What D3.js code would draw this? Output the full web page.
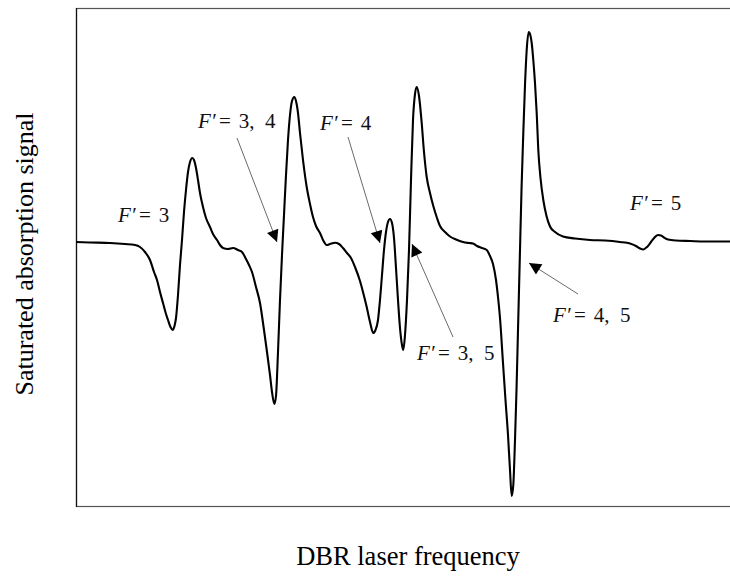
<!DOCTYPE html>
<html>
<head>
<meta charset="utf-8">
<script src="https://cdn.jsdelivr.net/npm/d3@7"></script>
<style>
  body { margin: 0; background: #fff; }
  svg { display: block; }
</style>
</head>
<body>
<div id="app"></div>
<script>
// laser detuning (arb. units) and saturated absorption signal (arb. units)
const freq = [
  0, 14, 34, 49, 59, 64, 69, 74, 78, 81,
  84, 87, 90, 92, 94.5, 96.7, 98.5, 100, 102, 104,
  106, 108, 110, 112, 114, 116.3, 118, 120, 122, 124,
  127, 130, 134, 137, 141, 144, 147, 152, 157, 162,
  166, 170, 173, 176, 180, 184, 188, 191, 194, 196,
  198.3, 200, 202, 204, 206, 208, 210, 212, 214, 216,
  218.3, 220, 222, 224, 227, 230.7, 234, 237, 240, 244,
  247, 250.7, 254, 259, 263, 267, 271, 275, 279, 284,
  287, 290.7, 294, 297.3, 299.5, 302, 304, 306, 308, 310,
  312, 314, 316, 318, 320, 322, 324, 326, 327.3, 329,
  331, 333, 335, 337, 339, 340.7, 343, 345.7, 348, 350.7,
  354, 357.3, 361, 364, 369, 374, 380, 387, 393, 397,
  401, 406, 410.7, 414, 417, 420, 422, 424, 427, 429.5,
  432, 434, 435.7, 437.3, 439, 440.5, 442, 444, 445.5, 447.3,
  449, 450.7, 452.7, 454.3, 455.7, 457.3, 459, 460.7, 462.3, 464.5,
  467.3, 470.5, 474, 479, 487, 499, 514, 529, 544, 554,
  560, 564, 567.3, 571, 575, 579, 582, 585, 588, 592,
  600, 614, 629, 654
]
const signal = [
  0, -0.5, -1, -2, -3, -5, -10, -18, -30, -38,
  -50, -61, -72, -78, -85, -88, -84, -76, -53, -23,
  2, 30, 52, 70, 80, 84, 82, 74, 62, 49,
  35, 24, 15, 8, 2, -3, -6, -7, -6, -8,
  -10, -17, -23, -30, -45, -61, -88, -110, -133, -150,
  -162, -154, -110, -58, -13, 27, 67, 102, 127, 141,
  145, 141, 129, 109, 82, 55, 38, 25, 16, 9,
  2, -3, -2, -0.7, -2, -6, -11, -16, -25, -39,
  -50, -65, -80, -91, -88, -78, -58, -33, -8, 10,
  20, 23, 19, 4, -26, -58, -86, -103, -108, -93,
  -58, -8, 62, 122, 148, 155, 146, 119, 90, 65,
  49, 36, 24, 16, 10, 5.5, 2.5, 0, -1, -1.5,
  -4, -6, -8, -14, -22, -38, -55, -76, -121, -158,
  -193, -228, -254, -243, -198, -148, -88, -8, 52, 109,
  157, 192, 210, 207, 199, 182, 159, 129, 92, 64,
  42, 26, 15.5, 10, 5.5, 3.5, 2, 1.5, 0, -1.5,
  -4, -6.5, -7.5, -5, 0, 5, 7, 6.5, 4.5, 2.5,
  1.5, 1, 0.5, 0.5
]

// transition labels: text anchor and (optional) arrow from -> to, in data units
const labels = ['3', '3, 4', '4', '3, 5', '4, 5', '5']
const labelAt = [[42, 20], [122, 114], [244, 112], [341, -118], [477, -80], [554, 32]]
const arrowFrom = [null, [161, 104], [272, 105], [377, -95], [502, -52], null]
const arrowTo = [null, [201, 0], [304, -1], [336, -2], [453, -21], null]

const width = 730, height = 576
const margin = {left: 76, top: 8, right: -10, bottom: 70}

const svg = d3.select('#app').append('svg')
    .attr('width', width)
    .attr('height', height)

const x = d3.scaleLinear()
    .domain([0, 654])
    .range([margin.left, 730])

const y = d3.scaleLinear()
    .domain([-264, 234])
    .range([height - margin.bottom, margin.top])

// frame
svg.append('rect')
    .attr('x', margin.left + 0.5)
    .attr('y', margin.top + 0.5)
    .attr('width', width - margin.left - margin.right)
    .attr('height', y.range()[0] - margin.top)
    .style('fill', 'none')
    .style('stroke', '#555')
    .style('stroke-width', 1.2)

svg.append('line')
    .attr('x1', margin.left + 0.5).attr('x2', margin.left + 0.5)
    .attr('y1', margin.top).attr('y2', y.range()[0] + 1)
    .style('stroke', '#111')
    .style('stroke-width', 1.2)

const pts = freq.map((f, i) => [f, signal[i]])

const line = d3.line()
    .x(d => x(d[0]))
    .y(d => y(d[1]))
    .curve(d3.curveMonotoneX)

svg.append('path')
    .datum(pts)
    .attr('d', line)
    .style('fill', 'none')
    .style('stroke', '#000')
    .style('stroke-width', 2.1)
    .style('stroke-linejoin', 'round')

// arrowhead
svg.append('defs').append('marker')
    .attr('id', 'head')
    .attr('viewBox', '0 0 10 10')
    .attr('refX', 10).attr('refY', 5)
    .attr('markerUnits', 'userSpaceOnUse')
    .attr('markerWidth', 17).attr('markerHeight', 12)
    .attr('orient', 'auto')
  .append('path')
    .attr('d', 'M0,0 L10,5 L0,10 Z')
    .style('fill', '#000')

labels.forEach((lab, i) => {
    if (arrowFrom[i]) {
        svg.append('line')
            .attr('x1', x(arrowFrom[i][0])).attr('y1', y(arrowFrom[i][1]))
            .attr('x2', x(arrowTo[i][0])).attr('y2', y(arrowTo[i][1]))
            .attr('marker-end', 'url(#head)')
            .style('stroke', '#444')
            .style('stroke-width', 0.8)
    }
    const t = svg.append('text')
        .attr('x', x(labelAt[i][0]))
        .attr('y', y(labelAt[i][1]))
        .style('font-family', '"Liberation Serif", serif')
        .style('font-size', '21px')
        .style('fill', '#111')
    t.append('tspan').style('font-style', 'italic').text('F')
    t.append('tspan').attr('dx', 1.5).text('′')
    t.append('tspan').attr('dx', 2).text('=')
    t.append('tspan').attr('dx', 8).text(lab.replace(', ', ',\u2002'))
})

// axis titles
svg.append('text')
    .attr('x', 408)
    .attr('y', 565)
    .attr('text-anchor', 'middle')
    .style('font-family', '"Liberation Serif", serif')
    .style('font-size', '26.5px')
    .text('DBR laser frequency')

svg.append('text')
    .attr('transform', 'translate(33,254) rotate(-90)')
    .attr('text-anchor', 'middle')
    .style('font-family', '"Liberation Serif", serif')
    .style('font-size', '26px')
    .text('Saturated absorption signal')
</script>
</body>
</html>
